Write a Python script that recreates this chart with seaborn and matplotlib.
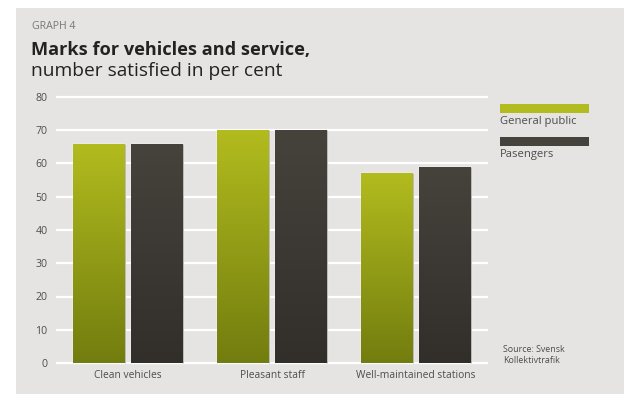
import numpy as np
import pandas as pd
import matplotlib
matplotlib.use("Agg")
import matplotlib.pyplot as plt
import seaborn as sns
from matplotlib.colors import LinearSegmentedColormap
from matplotlib.patches import Rectangle

# Data
categories = ["Clean vehicles", "Pleasant staff", "Well-maintained stations"]
series_names = ["General public", "Pasengers"]
general_public = [66, 70, 57]
passengers = [66, 70, 59]
y_ticks = [0, 10, 20, 30, 40, 50, 60, 70, 80]

df = pd.DataFrame({
    "category": categories * 2,
    "group": [series_names[0]] * len(categories) + [series_names[1]] * len(categories),
    "value": general_public + passengers,
})

# Styling
W, H = 624, 394
panel_color = "#e5e4e2"
green_top, green_bottom = "#b2bc1e", "#727d0f"
dark_top, dark_bottom = "#46433d", "#322e2a"
text_dark = "#222222"
text_mid = "#4d4d4d"
font = "Open Sans"

sns.set_theme(style="white")
plt.rcParams["font.family"] = [font, "DejaVu Sans"]

fig = plt.figure(figsize=(W / 100, H / 100), dpi=100)
fig.patch.set_facecolor("white")
fig.patches.append(Rectangle((16 / W, 0), 1 - 16 / W, 1 - 8 / H,
                             transform=fig.transFigure, facecolor=panel_color,
                             edgecolor="none", zorder=-10))

# Axes: y=0 at 363 px from top, y=80 at 97 px
px_per_unit = (363 - 97) / 80
pad_units = 0.6
ax_bottom = H - 363 - pad_units * px_per_unit
ax_height = (363 - 97) + 2 * pad_units * px_per_unit
ax = fig.add_axes([56 / W, ax_bottom / H, (488 - 56) / W, ax_height / H])
ax.set_facecolor("none")

sns.barplot(data=df, x="category", y="value", hue="group",
            palette=[green_top, dark_top], width=0.8, gap=0.1,
            saturation=1, legend=False, ax=ax, zorder=3)

# Vertical gradient fill for each bar, clipped to the bar itself
grad = np.linspace(0, 1, 256).reshape(-1, 1)
cmaps = {
    series_names[0]: LinearSegmentedColormap.from_list("g", [green_bottom, green_top]),
    series_names[1]: LinearSegmentedColormap.from_list("d", [dark_bottom, dark_top]),
}
bars = list(ax.patches)
n = len(categories)
for i, bar in enumerate(bars):
    cmap = cmaps[series_names[i // n]]
    x0, w, h = bar.get_x(), bar.get_width(), bar.get_height()
    im = ax.imshow(grad, cmap=cmap, origin="lower", aspect="auto",
                   extent=[x0, x0 + w, 0, h], zorder=4, interpolation="bilinear")
    im.set_clip_path(bar)
    # faint highlight along the right edge
    ax.plot([x0 + w, x0 + w], [0, h], color="#bdbab5", lw=0.8, zorder=3.5,
            solid_capstyle="butt")

ax.set_xlim(-0.5, 2.5)
ax.set_ylim(-pad_units, 80 + pad_units)
ax.set_yticks(y_ticks)
ax.set_yticklabels([str(v) for v in y_ticks])
ax.set_xlabel("")
ax.set_ylabel("")
ax.yaxis.grid(True, color="white", lw=1.6, zorder=0)
ax.xaxis.grid(False)
ax.set_axisbelow(True)
for s in ax.spines.values():
    s.set_visible(False)
ax.tick_params(axis="y", length=0, pad=6, labelsize=7.6, labelcolor=text_mid)
ax.tick_params(axis="x", length=0, pad=3.5, labelsize=7.4, labelcolor=text_mid)

# Titles
fig.text(32 / W, 1 - 29.3 / H, "GRAPH 4", fontsize=7.6, color="#777777",
         va="baseline", ha="left")
fig.text(31 / W, 1 - 55 / H, "Marks for vehicles and service,", fontsize=13.1,
         fontweight="bold", color=text_dark, va="baseline", ha="left")
fig.text(31 / W, 1 - 76.5 / H, "number satisfied in per cent", fontsize=13.8,
         color=text_dark, va="baseline", ha="left")

# Legend
legend_colors = [green_top, dark_top]
patch_tops = [104, 137]
label_baselines = [124, 157.5]
for name, col, top, base in zip(series_names, legend_colors, patch_tops, label_baselines):
    fig.patches.append(Rectangle((500 / W, 1 - (top + 9) / H), 89 / W, 9 / H,
                                 transform=fig.transFigure, facecolor=col,
                                 edgecolor="none"))
    fig.text(500 / W, 1 - base / H, name, fontsize=8.1, color=text_mid,
             va="baseline", ha="left")

# Source note
fig.text(503 / W, 1 - 352 / H, "Source: Svensk", fontsize=6.4, color=text_mid,
         va="baseline", ha="left")
fig.text(503 / W, 1 - 363 / H, "Kollektivtrafik", fontsize=6.4, color=text_mid,
         va="baseline", ha="left")

fig.savefig("out.png", dpi=100)
